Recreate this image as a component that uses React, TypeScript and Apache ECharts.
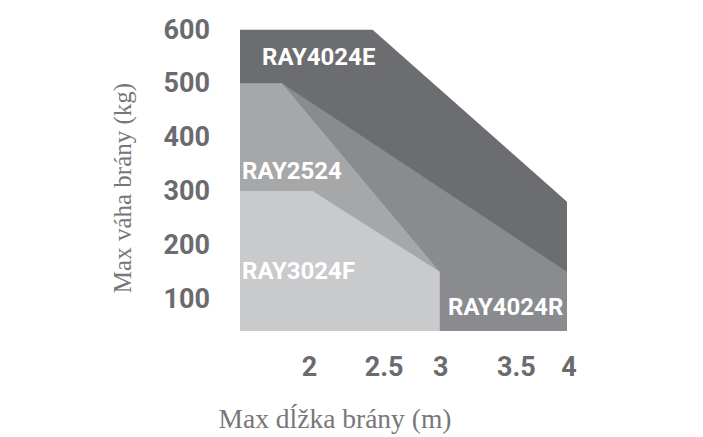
import React, { useEffect, useRef } from "react";
import * as echarts from "echarts";

const xTicks = [2, 2.5, 3, 3.5, 4];
const yTicks = [100, 200, 300, 400, 500, 600];
const seriesNames = ["RAY4024E", "RAY4024R", "RAY2524", "RAY3024F"];
const ray4024E = [[1.43, 600], [2.47, 600], [4, 280]];
const ray4024R = [[1.43, 500], [1.76, 500], [4, 150]];
const ray2524 = [[1.43, 500], [1.76, 500], [3, 150]];
const ray3024F = [[1.43, 300], [2, 300], [3, 150]];

const colors = ["#6c6d70", "#8a8b8e", "#a6a7a9", "#c9cacb"];
const labelColor = "#6b6b6f";
const sans = "Roboto, 'Liberation Sans', Arial, sans-serif";
const serif = "'Liberation Serif', 'DejaVu Serif', serif";

// small horizontal nudges of x tick labels as placed in the reference
const xShift: Record<string, number> = { "2": -3, "2.5": 8, "3": 1, "3.5": 13, "4": 2 };

export default function App() {
  const ref = useRef<HTMLDivElement>(null);
  useEffect(() => {
    if (!ref.current) return;
    const chart = echarts.init(ref.current, undefined, { renderer: "svg" });
    const datas = [ray4024E, ray4024R, ray2524, ray3024F];
    const rich: any = {};
    const keys = Object.keys(xShift);
    keys.forEach((k, i) => {
      const s = xShift[k];
      rich["s" + i] = {
        fontFamily: sans,
        fontWeight: "bold",
        fontSize: 27,
        color: labelColor,
        padding: s >= 0 ? [0, 0, 0, 2 * s] : [0, -2 * s, 0, 0],
      };
    });
    chart.setOption({
      animation: false,
      grid: { left: 240, right: 136, top: 29.5, bottom: 106 },
      xAxis: {
        type: "value",
        min: 1.43,
        max: 4,
        axisLine: { show: false },
        axisTick: { show: false },
        splitLine: { show: false },
        axisLabel: {
          customValues: xTicks,
          margin: 22,
          fontFamily: sans,
          fontWeight: "bold",
          fontSize: 27,
          color: labelColor,
          formatter: (v: number) => {
            const key = String(v);
            const i = keys.indexOf(key);
            return i >= 0 ? `{s${i}|${key}}` : key;
          },
          rich,
        },
      },
      yAxis: {
        type: "value",
        min: 40,
        max: 600,
        axisLine: { show: false },
        axisTick: { show: false },
        splitLine: { show: false },
        axisLabel: {
          customValues: yTicks,
          margin: 30,
          fontFamily: sans,
          fontWeight: "bold",
          fontSize: 27,
          color: labelColor,
        },
      },
      series: datas.map((d, i) => ({
        name: seriesNames[i],
        type: "line",
        data: d,
        symbol: "none",
        silent: true,
        z: 2 + i,
        lineStyle: { width: 0, color: colors[i] },
        areaStyle: { color: colors[i], opacity: 1, origin: "start" },
      })),
      graphic: [
        { type: "text", left: 262, top: 45, style: { text: "RAY4024E", fill: "#fff", font: `bold 24px ${sans}` }, z: 100 },
        { type: "text", left: 242, top: 159, style: { text: "RAY2524", fill: "#fff", font: `bold 24px ${sans}` }, z: 100 },
        { type: "text", left: 242, top: 259, style: { text: "RAY3024F", fill: "#fff", font: `bold 24px ${sans}` }, z: 100 },
        { type: "text", left: 448, top: 295, style: { text: "RAY4024R", fill: "#fff", font: `bold 24px ${sans}` }, z: 100 },
        {
          type: "text",
          x: 122,
          y: 188,
          rotation: Math.PI / 2,
          style: { text: "Max váha brány (kg)", fill: "#77777a", font: `25px ${serif}`, align: "center", verticalAlign: "middle" },
        },
        {
          type: "text",
          x: 335,
          y: 418,
          style: { text: "Max dĺžka brány (m)", fill: "#77777a", font: `27.5px ${serif}`, align: "center", verticalAlign: "middle" },
        },
      ],
    });
    return () => chart.dispose();
  }, []);
  return <div ref={ref} style={{ position: "absolute", left: 0, top: 0, width: 703, height: 437 }} />;
}
